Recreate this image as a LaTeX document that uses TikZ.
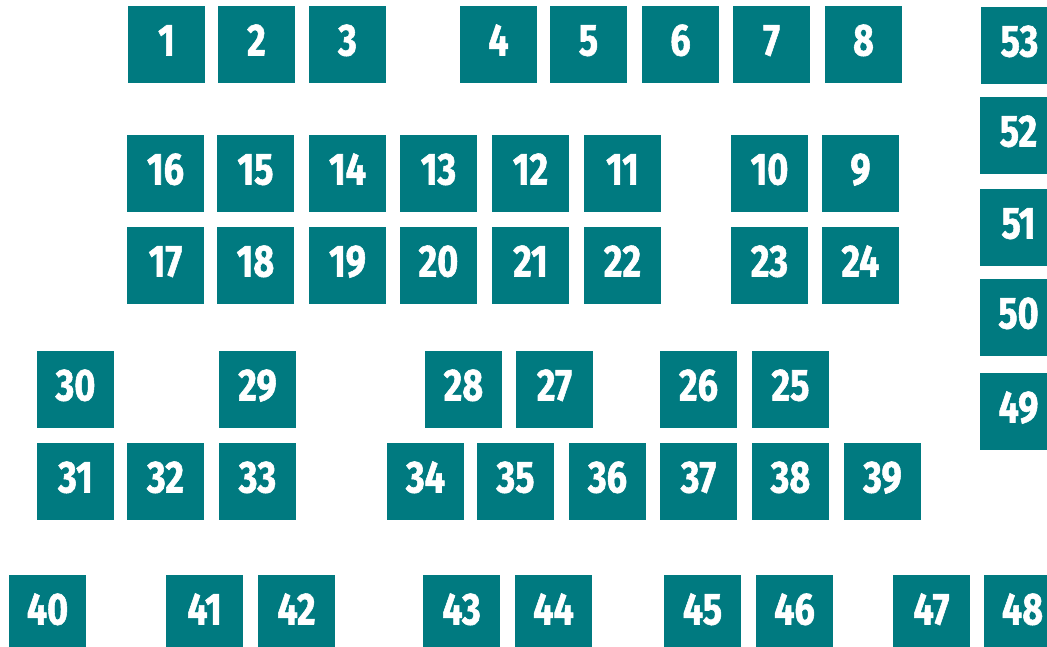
\documentclass[tikz,border=0pt]{standalone}
\usepackage{fontspec}
\newfontfamily\digitfont[FakeStretch=0.8,FakeBold=1.2]{Fira Sans Bold}
\definecolor{seatteal}{RGB}{0,122,128}
\tikzset{
  seat/.style={fill=seatteal, minimum size=77pt, inner sep=0pt, outer sep=0pt,
    text=white, font=\digitfont\fontsize{45}{45}\selectfont,
    text height=31pt, text depth=9pt, anchor=north west}
}
\begin{document}
\begin{tikzpicture}[x=1pt,y=-1pt]
\useasboundingbox (0,0) rectangle (1047,647);
\clip (0,0) rectangle (1047,647);
% row 1
\node[seat] (s1) at (128,6) {1};
\node[seat] (s2) at (218,6) {2};
\node[seat] (s3) at (309,6) {3};
\node[seat] (s4) at (460,6) {4};
\node[seat] (s5) at (550,6) {5};
\node[seat] (s6) at (642,6) {6};
\node[seat] (s7) at (733,6) {7};
\node[seat] (s8) at (825,6) {8};
% right column
\node[seat] (s53) at (981,7) {53};
\node[seat] (s52) at (980,97) {52};
\node[seat] (s51) at (980,189) {51};
\node[seat] (s50) at (980,279) {50};
\node[seat] (s49) at (980,373) {49};
% row 2
\node[seat] (s16) at (127,135) {16};
\node[seat] (s15) at (217,135) {15};
\node[seat] (s14) at (309,135) {14};
\node[seat] (s13) at (400,135) {13};
\node[seat] (s12) at (492,135) {12};
\node[seat] (s11) at (584,135) {11};
\node[seat] (s10) at (731,135) {10};
\node[seat] (s9) at (822,135) {9};
% row 3
\node[seat] (s17) at (127,227) {17};
\node[seat] (s18) at (217,227) {18};
\node[seat] (s19) at (309,227) {19};
\node[seat] (s20) at (400,227) {20};
\node[seat] (s21) at (492,227) {21};
\node[seat] (s22) at (584,227) {22};
\node[seat] (s23) at (731,227) {23};
\node[seat] (s24) at (822,227) {24};
% row 4
\node[seat] (s30) at (37,351) {30};
\node[seat] (s29) at (219,351) {29};
\node[seat] (s28) at (425,351) {28};
\node[seat] (s27) at (516,351) {27};
\node[seat] (s26) at (660,351) {26};
\node[seat] (s25) at (752,351) {25};
% row 5
\node[seat] (s31) at (37,443) {31};
\node[seat] (s32) at (127,443) {32};
\node[seat] (s33) at (219,443) {33};
\node[seat] (s34) at (387,443) {34};
\node[seat] (s35) at (477,443) {35};
\node[seat] (s36) at (569,443) {36};
\node[seat] (s37) at (660,443) {37};
\node[seat] (s38) at (752,443) {38};
\node[seat] (s39) at (844,443) {39};
% row 6
\node[seat] (s40) at (9,575) {40};
\node[seat] (s41) at (166,575) {41};
\node[seat] (s42) at (258,575) {42};
\node[seat] (s43) at (423,575) {43};
\node[seat] (s44) at (515,575) {44};
\node[seat] (s45) at (664,575) {45};
\node[seat] (s46) at (756,575) {46};
\node[seat] (s47) at (893,575) {47};
\node[seat] (s48) at (984,575) {48};
\end{tikzpicture}
\end{document}
